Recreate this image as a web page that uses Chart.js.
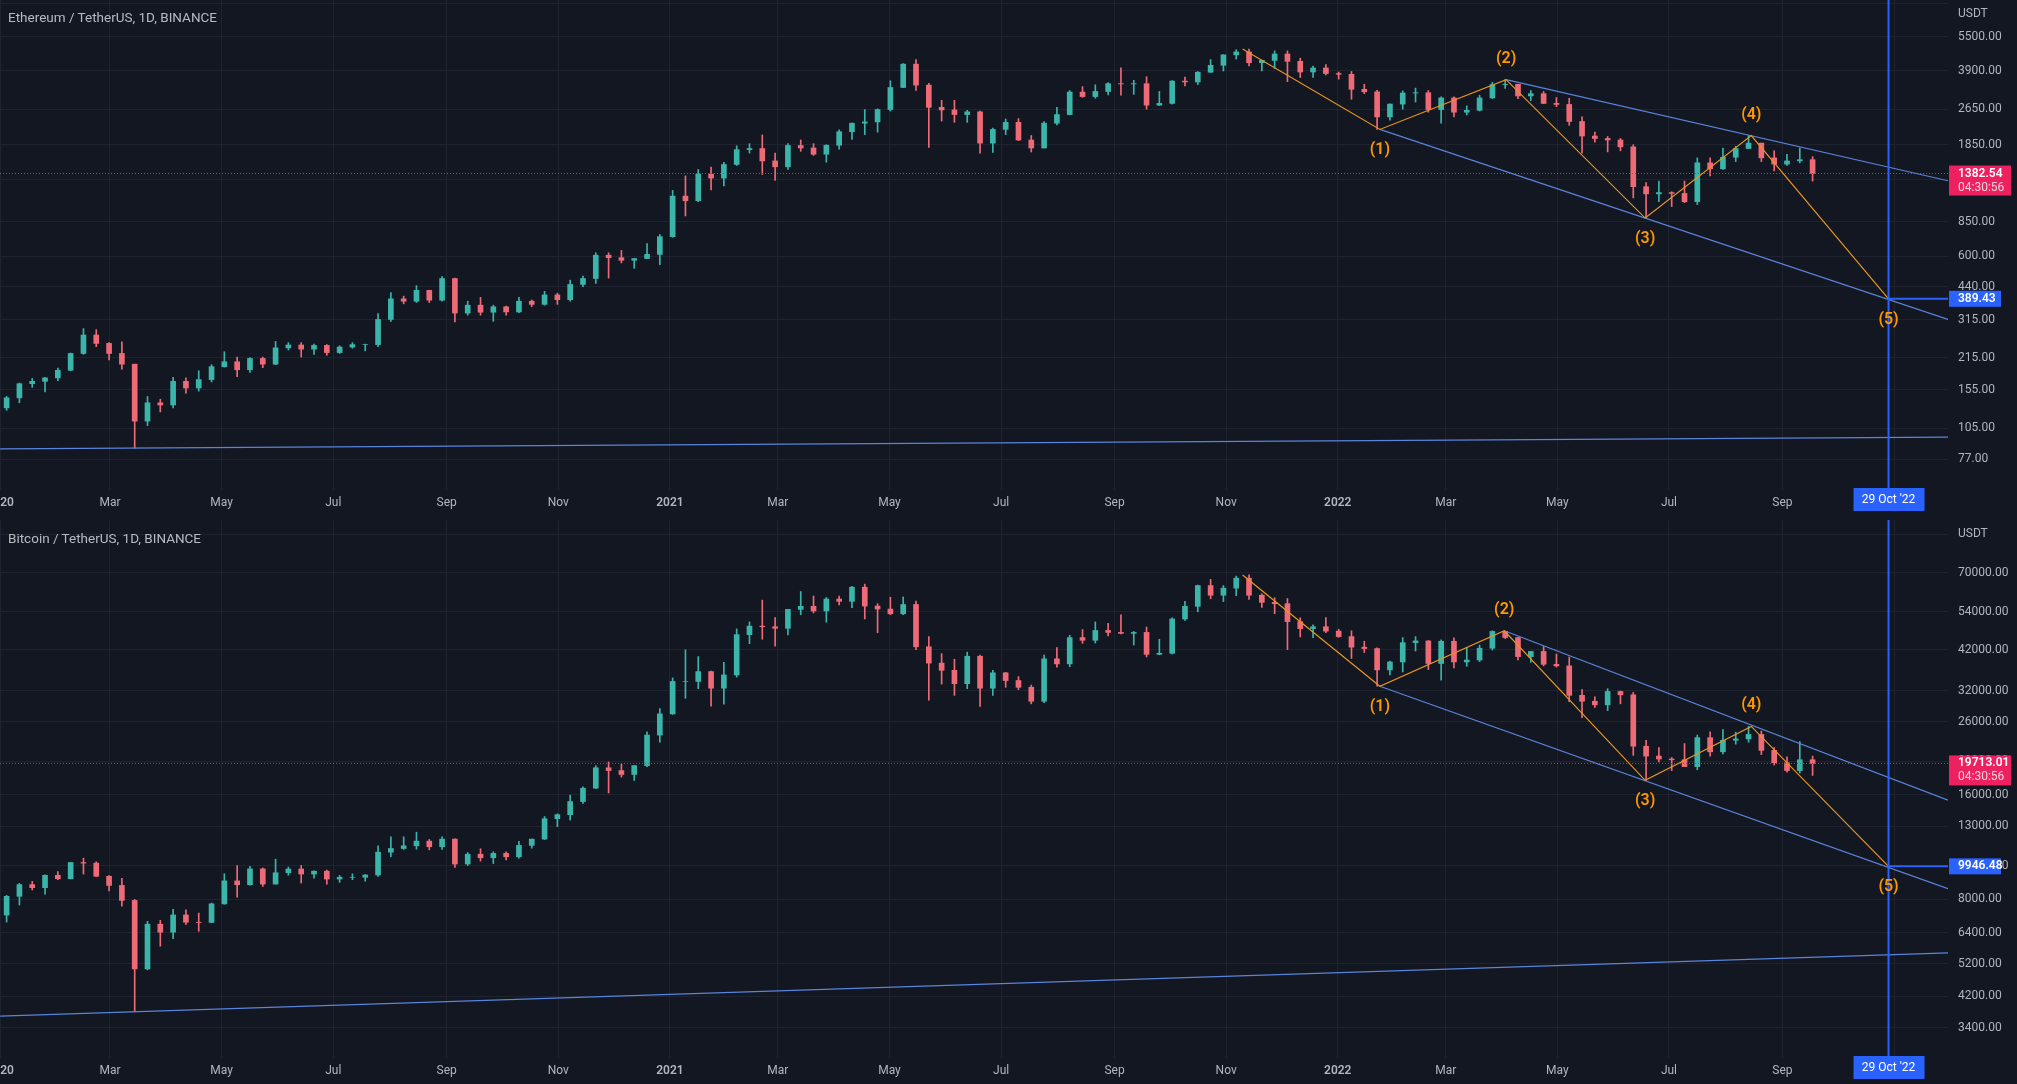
<!DOCTYPE html>
<html><head><meta charset="utf-8">
<script src="https://cdn.jsdelivr.net/npm/chart.js@4.4.1/dist/chart.umd.min.js"></script>
<style>
html,body{margin:0;padding:0;background:#131722;width:2017px;height:1084px;overflow:hidden;}
#wrap1{position:absolute;left:0;top:0;width:2017px;height:518px;}
#wrap2{position:absolute;left:0;top:518px;width:2017px;height:566px;}
.title{position:absolute;left:8px;font:13.5px Roboto, sans-serif;color:#b7bac2;white-space:nowrap;}
</style></head><body>
<div id="wrap1"><canvas id="c1"></canvas></div>
<div id="wrap2"><canvas id="c2"></canvas></div>
<div class="title" style="top:9px">Ethereum / TetherUS, 1D, BINANCE</div>
<div class="title" style="top:530px">Bitcoin / TetherUS, 1D, BINANCE</div>
<script>
// ---------- DATA (weekly candles, week i starts at day 7*i from 1 Jan 2020) ----------
const ETH_OPEN0 = 129.2;
const ethClose = [
 143,165,169,175,189,224,270,248,224,201,
 113,136,133,169,158,172,196,206,190,213,
 201,237,244,234,243,226,239,245,245,316,
 389,380,424,384,478,337,365,340,359,341,
 380,368,405,386,450,478,605,590,575,585,
 610,730,1100,1050,1375,1320,1515,1760,1780,1570,
 1480,1835,1790,1680,1840,2110,2300,2330,2640,3300,
 4180,3380,2700,2630,2510,2580,1880,2160,2320,1940,
 1790,2300,2510,3150,3010,3170,3430,3420,3430,2760,
 2810,3520,3490,3850,4130,4590,4730,4240,4340,4630,
 4300,3860,4020,3800,3770,3240,3160,2450,2790,3120,
 3130,2640,2970,2570,2620,2970,3400,3410,3030,3100,
 2810,2780,2340,2020,1970,1940,1810,1210,1125,1140,
 1130,1040,1540,1450,1630,1780,1880,1620,1520,1570,
 1590,1382.54];
const ethHigh = [
 145,166,174,176,193,225,288,285,250,252,
 201,145,141,176,175,188,200,228,216,215,
 216,253,250,250,246,245,242,250,246,335,
 415,400,445,425,488,480,380,395,365,362,
 395,385,420,412,470,490,620,620,635,585,
 680,745,1165,1350,1440,1476,1550,1830,1870,2042,
 1700,1870,1940,1870,1850,2150,2300,2640,2660,3530,
 4200,4372,3440,2900,2900,2620,2600,2190,2400,2410,
 2030,2340,2700,3200,3330,3390,3470,4030,3550,3680,
 3170,3540,3670,3880,4375,4600,4840,4868,4350,4780,
 4780,4440,4100,4160,3860,3880,3410,3210,2800,3190,
 3280,3200,3000,3000,2740,3050,3480,3575,3410,3200,
 3170,2980,2960,2450,2100,2010,1970,1850,1260,1280,
 1150,1280,1620,1620,1790,1820,2030,1880,1740,1680,
 1790,1640];
const ethLow = [
 126,136,159,152,170,188,222,240,210,191,
 86,108,124,129,150,153,168,195,177,185,
 194,200,232,216,222,220,224,236,230,240,
 310,370,375,375,380,308,330,330,310,330,
 338,360,365,368,380,440,455,480,560,530,
 585,550,725,900,1040,1170,1220,1500,1700,1370,
 1290,1440,1730,1660,1550,1770,1950,2050,2100,2600,
 3300,3200,1800,2350,2320,2320,1700,1710,2050,1930,
 1718,1790,2260,2500,2990,2960,3060,3050,3080,2650,
 2750,2790,3350,3400,3850,3900,4400,4100,3900,4000,
 3500,3650,3650,3750,3590,2930,3100,2159,2370,2650,
 2850,2570,2300,2450,2500,2600,2950,3270,2950,2890,
 2800,2720,2250,1700,1900,1720,1740,1080,881,1040,
 990,1030,1010,1350,1440,1560,1780,1560,1420,1500,
 1540,1280];

const BTC_OPEN0 = 7195;
const btcClose = [
 8150,8810,8630,9370,9160,10200,10160,9310,8760,7930,
 5030,6770,6420,7200,6860,6850,7750,9030,8800,9780,
 8840,9530,9770,9450,9630,9140,9250,9250,9390,10930,
 11200,11400,11760,11330,11920,10100,10780,10530,10840,10600,
 11430,11920,13650,14020,15300,16720,19150,18800,18320,19430,
 23800,27400,33990,34000,36300,32500,35500,46400,49100,48900,
 48400,54880,56000,54300,58800,57900,63600,56100,55000,53300,
 56700,42800,38400,36600,33500,40200,32500,36000,34200,32700,
 29800,39500,38200,45500,44700,47700,47100,46800,47100,40700,
 41000,51500,56000,64300,60300,63200,67550,60300,57500,57000,
 50600,48300,48900,47500,45800,42700,42300,36700,38700,44000,
 44500,38300,44400,38700,39200,42400,47400,45500,40100,41500,
 38100,37700,31000,29800,29100,31800,31100,22100,20700,20300,
 20200,19300,23400,21300,23000,23200,23900,21500,19800,18800,
 20200,19713.01];
const btcHigh = [
 8200,8880,9000,9400,9600,10200,10500,10250,9360,9190,
 7980,6900,6950,7470,7450,7290,7790,9470,10000,9950,
 9840,10430,9900,10000,9650,9700,9360,9460,9420,11400,
 12100,12100,12480,11890,12100,11950,10900,11180,10960,10950,
 11740,11850,13850,14100,15970,16880,19420,19900,19630,19400,
 24300,28400,34800,41950,40100,36400,38600,48200,50500,58350,
 52000,54900,61800,60000,59400,60000,64000,64900,57000,59500,
 59600,58000,45800,40900,39400,41300,40500,36600,36100,35100,
 33200,40500,42600,46200,48000,50500,50000,52900,47400,48800,
 45000,51900,57900,64500,67000,64300,68500,69000,60900,59300,
 59000,51900,49500,52000,48100,47600,44400,42500,38900,45500,
 45800,44600,44800,45400,42600,43300,47600,47500,45500,41500,
 42900,40800,40000,32200,30700,32400,31900,31600,23000,21900,
 20500,22500,23800,24300,24700,24250,25211,24450,21900,20600,
 22800,20700];
const btcLow = [
 6870,7690,8500,8260,9100,9150,9450,9300,8450,7630,
 3782,5000,5850,6150,6760,6460,6850,7730,8100,8780,
 8700,8840,9380,8900,9200,8830,8940,9100,9010,9300,
 10600,11130,11150,11100,11130,9880,10000,10300,10130,10380,
 10500,11220,11890,12950,13530,15100,16700,16200,18000,17600,
 19300,22700,27300,30400,32400,28850,29240,35000,43700,45000,
 43000,46300,53000,53600,50400,56500,55500,51500,47000,53000,
 53000,42000,30000,33400,31000,32400,28800,31000,32700,32200,
 29300,29500,37400,37500,43800,43900,46000,46600,43300,40000,
 40600,40800,51000,54000,58900,57800,60100,58600,55600,53300,
 42000,45700,45500,47000,45600,39600,41200,32917,35500,36200,
 41600,36800,34300,37200,37600,38800,41900,45200,39200,38600,
 37700,37400,29700,26700,28600,28000,29300,20800,17622,19900,
 18800,19500,18900,20700,21000,22400,22700,20900,19500,18600,
 18500,18200];

// x axis (days since 1 Jan 2020)
const xTickDays   = [0,60,121,182,244,305,366,425,486,547,609,670,731,790,851,912,974,1035];
const xTickLabels = ['2020','Mar','May','Jul','Sep','Nov','2021','Mar','May','Jul','Sep','Nov','2022','Mar','May','Jul','Sep','Nov'];
const yearDays = [0,366,731];

// price axis ticks
const ethTicks = [77,105,155,215,315,440,600,850,1300,1850,2650,3900,5500,7700];
const ethHiddenTicks = [7700];
const btcTicks = [3400,4200,5200,6400,8000,10000,13000,16000,20000,26000,32000,42000,54000,70000,90000];
const btcHiddenTicks = [90000];

// Elliott wave pivots (day, price): start, (1)..(5)
const ethWaveX = [679, 754, 823, 899, 957, 1032];
const ethWaveY = [4868, 2159, 3575, 881, 2030, 389.43];
const btcWaveX = [679, 754, 822, 899, 957, 1032];
const btcWaveY = [69000, 32917, 47600, 17622, 25211, 9946.48];

// trend lines (day, price) endpoints
const ethUpperX = [823, 1064.5], ethUpperY = [3575, 1285];
const ethLowerX = [754, 1064.5], ethLowerY = [2159, 316];
const ethBaseX  = [0, 1064.5],   ethBaseY  = [85.3, 96.2];
const btcUpperX = [822, 1064.5], btcUpperY = [47600, 15450];
const btcLowerX = [754, 1064.5], btcLowerY = [32917, 8580];
const btcBaseX  = [0, 1064.5],   btcBaseY  = [3676, 5594];

const ethLast = 1382.54, btcLast = 19713.01, countdown = '04:30:56';
const targetDay = 1032, targetDayLabel = "29 Oct '22";
const ethTarget = 389.43, btcTarget = 9946.48;

// ---------- STYLE ----------
const X_MIN = -0.11, X_MAX = 1064.5;
const UP = '#3bb5aa', DOWN = '#ef6a77';
const GRID = '#1f2330', TEXT = '#b2b5be', BLUE = '#2962ff', TREND = '#5a84dc';
const ORANGE = '#ff9800', WAVE = '#e8951f', RED = '#ee2160';
const FONT = 'Roboto, "Liberation Sans", sans-serif';

function pts(xs, ys){ return xs.map((x,i)=>({x, y: ys[i]})); }

function makePanel(id, p){
  const wick = [], body = [], colors = [];
  let prev = p.open0;
  p.close.forEach((c, i) => {
    const x = i*7 + 3.5;
    const lo = Math.min(p.low[i], prev, c), hi = Math.max(p.high[i], prev, c);
    wick.push({x, y:[lo, hi]});
    body.push({x, y:[prev, c]});
    colors.push(c >= prev ? UP : DOWN);
    prev = c;
  });
  const line = (data, color, w, extra) => Object.assign({type:'line', data, borderColor:color, borderWidth:w,
    pointRadius:0, fill:false, tension:0, order:0}, extra||{});
  const datasets = [
    line(pts(p.waveX, p.waveY), WAVE, 1.2),
    line(pts(p.upperX, p.upperY), TREND, 1.2),
    line(pts(p.lowerX, p.lowerY), TREND, 1.2),
    line(pts(p.baseX, p.baseY), TREND, 1.2),
    line([{x:X_MIN, y:p.last},{x:X_MAX, y:p.last}], RED, 1, {borderDash:[1,2]}),
    line([{x:targetDay, y:p.target},{x:X_MAX, y:p.target}], BLUE, 2),
    {type:'bar', data: body, backgroundColor: colors, barThickness: 5, grouped:false, order:1},
    {type:'bar', data: wick, backgroundColor: colors, barThickness: 1, grouped:false, order:2}
  ];
  const overlay = {
    id:'overlay'+id,
    afterDatasetsDraw(chart){
      const {ctx, chartArea:a, scales:{x, y}} = chart;
      ctx.save();
      const vx = x.getPixelForValue(targetDay);
      ctx.strokeStyle = BLUE; ctx.lineWidth = 2;
      ctx.beginPath(); ctx.moveTo(vx, a.top); ctx.lineTo(vx, a.bottom); ctx.stroke();
      ctx.fillStyle = ORANGE; ctx.font = '600 16px ' + FONT;
      ctx.textAlign = 'center'; ctx.textBaseline = 'middle';
      for (let i = 1; i < p.waveX.length; i++){
        const px = x.getPixelForValue(p.waveX[i]), py = y.getPixelForValue(p.waveY[i]);
        ctx.fillText('(' + i + ')', px, py + (i % 2 ? 21 : -21));
      }
      ctx.restore();
    },
    afterDraw(chart){
      const {ctx, chartArea:a, scales:{x, y}} = chart;
      ctx.save();
      ctx.textBaseline = 'middle'; ctx.textAlign = 'left';
      // currency
      ctx.fillStyle = TEXT; ctx.font = '12px ' + FONT;
      ctx.fillText('USDT', a.right + 10, a.top + 14);
      // last price box
      const py = y.getPixelForValue(p.last);
      ctx.fillStyle = RED; ctx.fillRect(a.right + 1, py - 8, 62, 30);
      ctx.fillStyle = '#ffffff'; ctx.font = '600 12px ' + FONT;
      ctx.fillText(p.last.toFixed(2), a.right + 10, py);
      ctx.fillStyle = '#fbd3de'; ctx.font = '12px ' + FONT;
      ctx.fillText(countdown, a.right + 10, py + 14);
      // target box
      const ty = y.getPixelForValue(p.target);
      ctx.fillStyle = BLUE; ctx.fillRect(a.right + 1, ty - 8, 52, 16);
      ctx.fillStyle = '#ffffff'; ctx.font = '600 12px ' + FONT;
      ctx.fillText(p.target.toFixed(2), a.right + 10, ty);
      // date box
      const vx = x.getPixelForValue(targetDay);
      ctx.fillStyle = BLUE; ctx.fillRect(vx - 35, a.bottom - 2, 71, 23);
      ctx.fillStyle = '#ffffff'; ctx.font = '12px ' + FONT; ctx.textAlign = 'center';
      ctx.fillText(targetDayLabel, vx, a.bottom + 10);
      ctx.restore();
    }
  };
  return new Chart(document.getElementById(id), {
    type:'bar',
    data:{datasets},
    plugins:[overlay],
    options:{
      responsive:true, maintainAspectRatio:false, animation:false, events:[],
      layout:{padding:{top:p.padTop, left:0, right:0, bottom:0}},
      plugins:{legend:{display:false}, tooltip:{enabled:false}},
      scales:{
        x:{type:'linear', min:X_MIN, max:X_MAX, offset:false,
          afterBuildTicks: s => { s.ticks = xTickDays.map(v => ({value:v})); },
          afterFit: s => { s.height = p.xAxisH; s.paddingLeft = 0; s.paddingRight = 0; },
          grid:{color:GRID, drawTicks:false, offset:false},
          border:{display:false},
          ticks:{color:TEXT, padding:6, autoSkip:false, maxRotation:0, minRotation:0,
            callback: v => xTickLabels[xTickDays.indexOf(v)],
            font: c => ({family:FONT, size:12, weight: (c.tick && yearDays.includes(c.tick.value)) ? '600' : '400'})}
        },
        y:{type:'logarithmic', position:'right', min:p.ymin, max:p.ymax, bounds:'data',
          afterBuildTicks: s => { s.ticks = p.ticks.map(v => ({value:v})); },
          afterFit: s => { s.width = 69; s.paddingTop = 0; s.paddingBottom = 0; },
          grid:{color:GRID, drawTicks:false},
          border:{display:false},
          ticks:{color:TEXT, padding:10, autoSkip:false, font:{family:FONT, size:12},
            callback: v => p.hidden.includes(v) ? '' : Number(v).toFixed(2)}
        }
      }
    }
  });
}

makePanel('c1', {open0:ETH_OPEN0, close:ethClose, high:ethHigh, low:ethLow,
  waveX:ethWaveX, waveY:ethWaveY, upperX:ethUpperX, upperY:ethUpperY, lowerX:ethLowerX, lowerY:ethLowerY,
  baseX:ethBaseX, baseY:ethBaseY, last:ethLast, target:ethTarget, ticks:ethTicks, hidden:ethHiddenTicks,
  ymin:56.3, ymax:7995, padTop:0, xAxisH:28});
makePanel('c2', {open0:BTC_OPEN0, close:btcClose, high:btcHigh, low:btcLow,
  waveX:btcWaveX, waveY:btcWaveY, upperX:btcUpperX, upperY:btcUpperY, lowerX:btcLowerX, lowerY:btcLowerY,
  baseX:btcBaseX, baseY:btcBaseY, last:btcLast, target:btcTarget, ticks:btcTicks, hidden:btcHiddenTicks,
  ymin:2782, ymax:99420, padTop:2, xAxisH:26});
</script>
</body></html>
